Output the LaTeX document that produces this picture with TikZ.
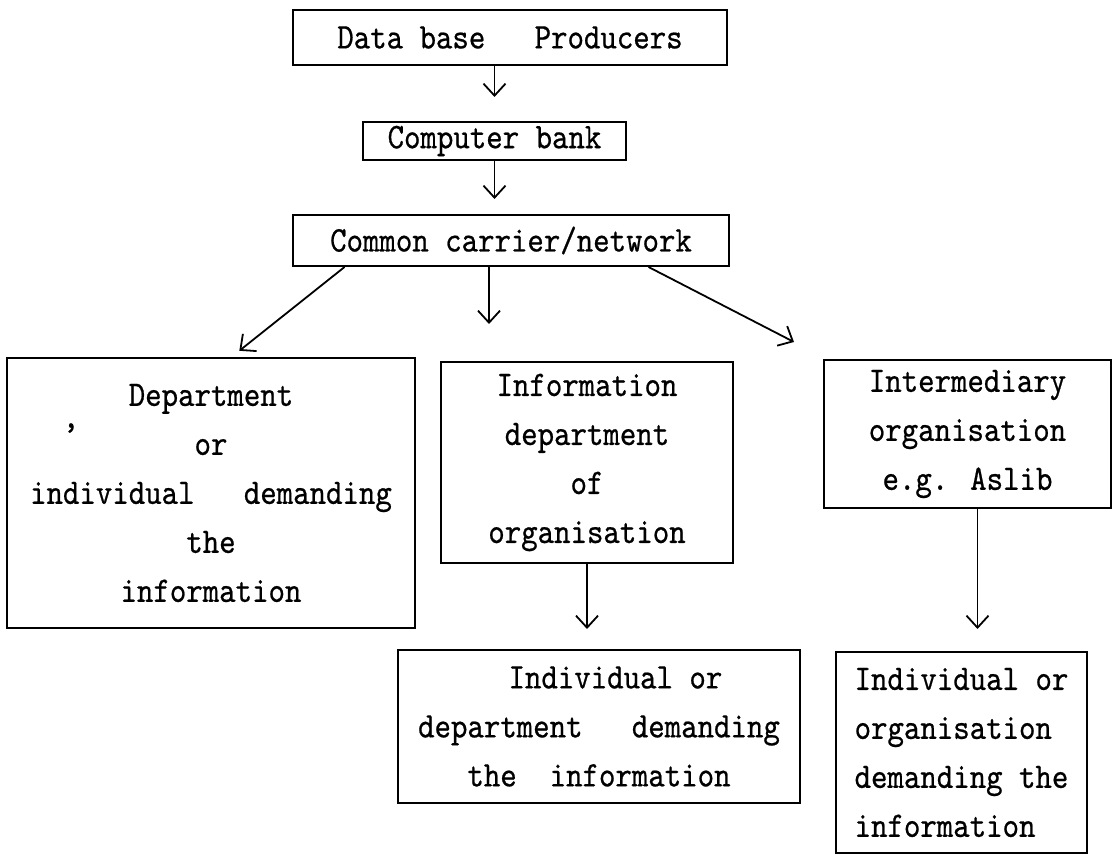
\documentclass[tikz,border=0pt]{standalone}
\usepackage{fontspec}
\usetikzlibrary{arrows.meta,calc}
\newfontfamily\typew[FakeStretch=0.87,FakeBold=0.6]{lmmono10-regular.otf}
\tikzstyle{box}=[draw,line width=1pt,inner sep=0pt,align=center,font={\typew\fontsize{18pt}{24.5pt}\selectfont}]
\tikzstyle{flow}=[line width=0.9pt,-{Straight Barb[length=6pt,width=11pt]}]

\begin{document}
\begin{tikzpicture}[x=0.5pt,y=-0.5pt]
    \useasboundingbox (0,0) rectangle (1115,855);
    \node[box,minimum width=217pt,minimum height=27.5pt] (prod) at (510,37.5) {Data base~~~Producers};
    \node[box,minimum width=131.5pt,minimum height=19pt] (bank) at (494.5,141) {Computer bank};
    \node[box,minimum width=218pt,minimum height=25.5pt] (carrier) at (511,240.5) {Common carrier/network};
    \node[box,minimum width=204pt,minimum height=135pt] (dept) at (211,493) {Department\\or\\individual~~~demanding\\the\\information};
    \node[box,minimum width=146pt,minimum height=100.5pt] (info) at (587,462.5) {Information\\department\\of\\organisation};
    \node[box,minimum width=143.5pt,minimum height=74pt] (inter) at (967.5,434) {Intermediary\\organisation\\e.g. Aslib};
    \node[box,minimum width=201pt,minimum height=76.5pt] (indivA) at (599,726.5) {~~Individual or\\department~~~demanding\\the~~information};
    \node[box,minimum width=125.5pt,minimum height=100.5pt,align=left] (indivB) at (961.5,752.5) {Individual or\\organisation\\demanding the\\information};
    \node[font={\typew\fontsize{18pt}{24.5pt}\selectfont}] (comma) at (71,428) {,};

    \draw[flow,shorten >=12pt] (prod.south -| bank) -- (bank);
    \draw[flow,shorten >=7.5pt] (bank) -- (carrier.north -| bank);
    \draw[flow,shorten >=5pt] ($(carrier.south west)!0.12!(carrier.south east)$) -- ($(dept.north west)!0.55!(dept.north east)$);
    \draw[flow,shorten >=18.5pt] ($(carrier.south)+(-22,0)$) -- ($(carrier.south |- info.north)+(-22,0)$);
    \draw[flow] ($(carrier.south west)!0.814!(carrier.south east)$) -- ($(inter.north west)+(-29,-17)$);
    \draw[flow,shorten >=10pt] (info.south) -- (info.south |- indivA.north);
    \draw[flow,shorten >=11pt] ($(inter.south)+(10,0)$) -- ($(inter.south |- indivB.north)+(10,0)$);
\end{tikzpicture}
\end{document}
